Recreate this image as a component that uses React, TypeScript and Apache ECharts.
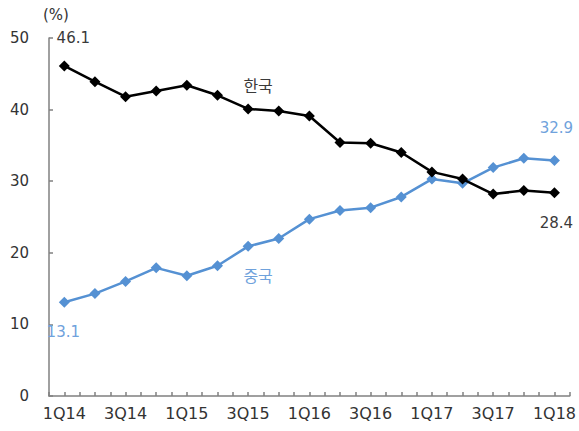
import React, { useEffect, useRef } from "react";
import * as echarts from "echarts";

const quarters = ["1Q14","2Q14","3Q14","4Q14","1Q15","2Q15","3Q15","4Q15","1Q16","2Q16","3Q16","4Q16","1Q17","2Q17","3Q17","4Q17","1Q18"];
const korea = [46.1,43.9,41.8,42.6,43.4,42.0,40.1,39.8,39.1,35.4,35.3,34.0,31.3,30.3,28.2,28.7,28.4];
const china = [13.1,14.3,16.0,17.9,16.8,18.2,20.9,22.0,24.7,25.9,26.3,27.8,30.3,29.7,31.9,33.2,32.9];
const seriesNames = ["한국", "중국"];
const unitLabel = "(%)";

const FONT = "'DejaVu Sans', 'Noto Sans CJK KR', sans-serif";
const KOREA_COLOR = "#000000";
const KOREA_LABEL = "#3a3a3a";
const CHINA_COLOR = "#5591D3";
const CHINA_LABEL = "#6FA2DC";

function lbl(position: string, offset: [number, number], text: string, color: string, size: number) {
  return { show: true, position, offset, formatter: text, color, fontSize: size, fontFamily: FONT, fontWeight: "normal", textBorderWidth: 0, textBorderColor: "transparent", textShadowBlur: 0 };
}

function buildData(values: number[], color: string, nameIdx: number, name: string, firstOff: [number, number], firstPos: string, lastOff: [number, number], lastPos: string, nameOff: [number, number], namePos: string) {
  const last = values.length - 1;
  return values.map((v, i) => {
    if (i === 0) return { value: v, label: lbl(firstPos, firstOff, v.toFixed(1), color, 15) };
    if (i === last) return { value: v, label: lbl(lastPos, lastOff, v.toFixed(1), color, 15) };
    if (i === nameIdx) return { value: v, label: lbl(namePos, nameOff, name, color, 16) };
    return v;
  });
}

export default function App() {
  const ref = useRef<HTMLDivElement>(null);
  useEffect(() => {
    document.body.style.margin = "0";
    if (!ref.current) return;
    const chart = echarts.init(ref.current, undefined, { renderer: "svg" });
    const axisLineStyle = { color: "#808080", width: 1.5 };
    chart.setOption({
      animation: false,
      backgroundColor: "#ffffff",
      textStyle: { fontFamily: FONT },
      grid: { left: 49, right: 9, top: 38, bottom: 35, containLabel: false },
      graphic: [
        { type: "text", left: 43, top: 7, style: { text: unitLabel, fontSize: 15, fontFamily: FONT, fill: "#333" } },
      ],
      xAxis: [
        {
          type: "category",
          data: quarters,
          boundaryGap: true,
          axisLine: { show: true, lineStyle: axisLineStyle },
          axisTick: { show: true, inside: true, length: 4, interval: 0, lineStyle: axisLineStyle },
          axisLabel: { interval: 1, fontSize: 16, color: "#333", margin: 9, fontFamily: FONT },
        },
        {
          type: "category",
          data: quarters,
          boundaryGap: true,
          position: "bottom",
          axisLine: { show: false },
          axisTick: { show: true, inside: true, length: 4, interval: 0, alignWithLabel: true, lineStyle: axisLineStyle },
          axisLabel: { show: false },
        },
      ],
      yAxis: {
        type: "value",
        min: 0,
        max: 50,
        interval: 10,
        splitLine: { show: false },
        axisLine: { show: true, lineStyle: axisLineStyle },
        axisTick: { show: true, inside: true, length: 4, lineStyle: axisLineStyle },
        axisLabel: { fontSize: 15, color: "#333", margin: 20, fontFamily: FONT },
      },
      series: [
        {
          name: seriesNames[0],
          type: "line",
          data: buildData(korea, KOREA_LABEL, 6, seriesNames[0], [9, -10], "top", [2, 12], "bottom", [10, -4], "top"),
          symbol: "diamond",
          symbolSize: 11,
          lineStyle: { color: KOREA_COLOR, width: 2.5 },
          itemStyle: { color: KOREA_COLOR },
          z: 3,
        },
        {
          name: seriesNames[1],
          type: "line",
          data: buildData(china, CHINA_LABEL, 6, seriesNames[1], [-1, 12], "bottom", [2, -14], "top", [10, 12], "bottom"),
          symbol: "diamond",
          symbolSize: 11,
          lineStyle: { color: CHINA_COLOR, width: 2.5 },
          itemStyle: { color: CHINA_COLOR },
          z: 2,
        },
      ],
    });
    return () => chart.dispose();
  }, []);
  return <div ref={ref} style={{ width: 579, height: 431 }} />;
}
